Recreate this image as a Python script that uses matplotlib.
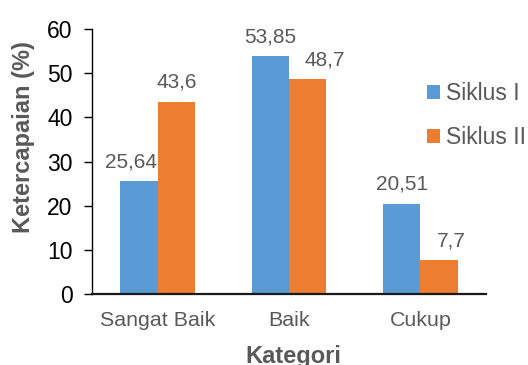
import matplotlib.pyplot as plt
import numpy as np

kategori = ['Sangat Baik', 'Baik', 'Cukup']
siklus_1 = [25.64, 53.85, 20.51]
siklus_2 = [43.6, 48.7, 7.7]
label_1 = ['25,64', '53,85', '20,51']
label_2 = ['43,6', '48,7', '7,7']
yticks = [0, 10, 20, 30, 40, 50, 60]

# geser label (pt) seperti di gambar asli
geser_1 = [-6, 0, 0]
geser_2 = [0, 12, 9]

plt.rcParams['font.family'] = ['Liberation Sans', 'DejaVu Sans']
biru = '#5B9BD5'
oranye = '#ED7D31'
abu = '#595959'

fig = plt.figure(figsize=(5.28, 3.65), dpi=100)
ax = fig.add_axes([0.1742, 0.1937, 0.7463, 0.7268])

x = np.arange(len(kategori))
w = 0.285
ax.bar(x - w / 2, siklus_1, w, color=biru, label='Siklus I')
ax.bar(x + w / 2, siklus_2, w, color=oranye, label='Siklus II')

for i in range(len(kategori)):
    ax.annotate(label_1[i], (x[i] - w / 2, siklus_1[i]), xytext=(geser_1[i], 10),
                textcoords='offset points', ha='center', va='baseline',
                fontsize=15, color=abu)
    ax.annotate(label_2[i], (x[i] + w / 2, siklus_2[i]), xytext=(geser_2[i], 10),
                textcoords='offset points', ha='center', va='baseline',
                fontsize=15, color=abu)

ax.set_xlim(-0.5, 2.5)
ax.set_ylim(0, 60)
ax.set_yticks(yticks)
ax.set_xticks(x)
ax.set_xticklabels(kategori, color=abu)
ax.tick_params(axis='y', labelsize=16.5, length=6, width=1, pad=8, colors='black')
ax.tick_params(axis='x', labelsize=15.4, length=0, pad=12)

for s in ['top', 'right']:
    ax.spines[s].set_visible(False)
ax.spines['left'].set_linewidth(1)
ax.spines['bottom'].set_linewidth(1.6)
ax.spines['bottom'].set_color('#1a1a1a')

ax.set_ylabel('Ketercapaian (%)', fontsize=17, fontweight='bold', color=abu)
ax.yaxis.set_label_coords(-0.145, 0.593)
ax.set_xlabel('Kategori', fontsize=17, fontweight='bold', color=abu, va='top')
ax.xaxis.set_label_coords(0.512, -0.19)

ax.legend(loc='upper left', bbox_to_anchor=(0.809, 0.774), bbox_transform=fig.transFigure,
          frameon=False, fontsize=16.5, labelcolor=abu, handlelength=0.57, handleheight=0.57,
          handletextpad=0.26, labelspacing=0.88, borderaxespad=0, borderpad=0)

fig.savefig('out.png', dpi=100)
